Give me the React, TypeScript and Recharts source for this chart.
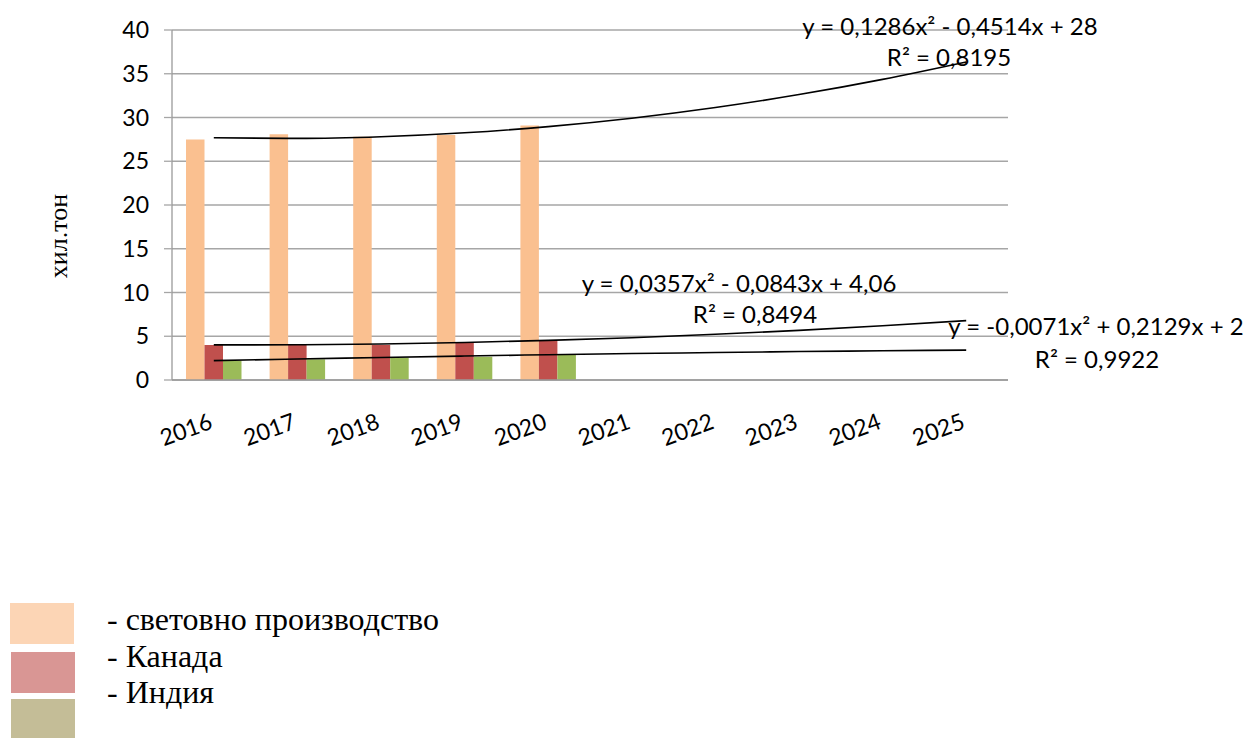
import { ComposedChart, Bar, Line, XAxis, YAxis, CartesianGrid } from 'recharts';

const years = ['2016', '2017', '2018', '2019', '2020', '2021', '2022', '2023', '2024', '2025'];
const world = [27.5, 28.1, 27.8, 28.0, 29.1];
const canada = [4.0, 4.05, 4.0, 4.26, 4.5];
const india = [2.2, 2.36, 2.55, 2.66, 2.86];

// polynomial trend lines
const worldTrend = [27.68, 27.61, 27.8, 28.25, 28.96, 29.92, 31.14, 32.62, 34.36, 36.35];
const canadaTrend = [4.01, 4.03, 4.12, 4.29, 4.53, 4.83, 5.22, 5.67, 6.2, 6.79];
const indiaTrend = [2.21, 2.4, 2.57, 2.74, 2.89, 3.02, 3.14, 3.25, 3.34, 3.42];

const yTicks = [0, 5, 10, 15, 20, 25, 30, 35, 40];

const trendEquations = [
  'y = 0,1286x² - 0,4514x + 28',
  'y = 0,0357x² - 0,0843x + 4,06',
  'y = -0,0071x² + 0,2129x + 2',
];
const trendR2 = ['R² = 0,8195', 'R² = 0,8494', 'R² = 0,9922'];

const legendLabels = ['- световно производство', '- Канада', '- Индия'];
const yAxisTitle = 'хил.тон';

const data = years.map((year, i) => ({
  year,
  world: world[i] ?? null,
  canada: canada[i] ?? null,
  india: india[i] ?? null,
  worldTrend: worldTrend[i],
  canadaTrend: canadaTrend[i],
  indiaTrend: indiaTrend[i],
}));

// label placement (centre x, baseline y)
const eqPos = [
  { x: 950, y: 35 },
  { x: 739, y: 292 },
  { x: 1096, y: 335 },
];
const r2Pos = [
  { x: 949, y: 66 },
  { x: 755, y: 323 },
  { x: 1097, y: 368 },
];

const legendColors = ['#FCD5B5', '#D99694', '#C4BD97'];
const legendBoxes = [
  { left: 10, top: 603, height: 41 },
  { left: 11, top: 652, height: 41 },
  { left: 11, top: 699, height: 39 },
];
const legendTops = [603, 640, 676];

const tickFont = 'Lato, "Open Sans", sans-serif';
const serifFont = '"Liberation Serif", "Times New Roman", serif';

const YearTick = (props: any) => {
  const { x, y, payload } = props;
  const ty = y + 48;
  return (
    <text
      x={x}
      y={ty}
      textAnchor="end"
      transform={`rotate(-20, ${x}, ${ty})`}
      fontSize={23}
      fontFamily={tickFont}
      fill="#000"
    >
      {payload.value}
    </text>
  );
};

export default function App() {
  return (
    <div style={{ position: 'absolute', left: 0, top: 0, width: 1244, height: 738, background: '#fff' }}>
      <ComposedChart
        width={1244}
        height={738}
        data={data}
        margin={{ top: 30, right: 236, left: 112, bottom: 318 }}
        barGap={0}
      >
        <CartesianGrid vertical={false} stroke="#A6A6A6" strokeWidth={1.3} />
        <XAxis
          dataKey="year"
          height={40}
          tickLine={false}
          tickSize={0}
          tickMargin={0}
          axisLine={{ stroke: '#9A9A9A', strokeWidth: 1.3 }}
          tick={<YearTick />}
          interval={0}
        />
        <YAxis
          width={60}
          domain={[0, 40]}
          ticks={yTicks}
          interval={0}
          tickSize={8}
          tickMargin={15}
          tickLine={{ stroke: '#A6A6A6', strokeWidth: 1.3 }}
          axisLine={{ stroke: '#9A9A9A', strokeWidth: 1.3 }}
          tick={{ fontSize: 23, fontFamily: tickFont, fill: '#000' }}
        />
        <Bar dataKey="world" fill="#FAC090" barSize={18.5} isAnimationActive={false} />
        <Bar dataKey="canada" fill="#C0504D" barSize={18.5} isAnimationActive={false} />
        <Bar dataKey="india" fill="#9BBB59" barSize={18.5} isAnimationActive={false} />
        <Line dataKey="worldTrend" type="monotone" stroke="#000" strokeWidth={1.6} dot={false} activeDot={false} isAnimationActive={false} />
        <Line dataKey="canadaTrend" type="monotone" stroke="#000" strokeWidth={1.6} dot={false} activeDot={false} isAnimationActive={false} />
        <Line dataKey="indiaTrend" type="monotone" stroke="#000" strokeWidth={1.6} dot={false} activeDot={false} isAnimationActive={false} />
      </ComposedChart>

      <svg width={1244} height={738} style={{ position: 'absolute', left: 0, top: 0, pointerEvents: 'none' }}>
        {trendEquations.map((eq, i) => (
          <text key={eq} x={eqPos[i].x} y={eqPos[i].y} textAnchor="middle" fontSize={24} fontFamily={tickFont} fill="#000">
            {eq}
          </text>
        ))}
        {trendR2.map((r, i) => (
          <text key={r} x={r2Pos[i].x} y={r2Pos[i].y} textAnchor="middle" fontSize={24} fontFamily={tickFont} fill="#000">
            {r}
          </text>
        ))}
        {legendBoxes.map((b, i) => (
          <rect key={i} x={b.left} y={b.top} width={64} height={b.height} fill={legendColors[i]} />
        ))}
      </svg>

      <div
        style={{
          position: 'absolute',
          left: -1,
          top: 221,
          width: 120,
          height: 30,
          lineHeight: '30px',
          textAlign: 'center',
          fontFamily: serifFont,
          fontSize: 26,
          color: '#000',
          transform: 'rotate(-90deg)',
          whiteSpace: 'nowrap',
        }}
      >
        {yAxisTitle}
      </div>

      {legendLabels.map((label, i) => (
        <div
          key={label}
          style={{
            position: 'absolute',
            left: 107,
            top: legendTops[i],
            lineHeight: '32px',
            fontFamily: serifFont,
            fontSize: 32,
            color: '#000',
            whiteSpace: 'nowrap',
          }}
        >
          {label}
        </div>
      ))}
    </div>
  );
}
